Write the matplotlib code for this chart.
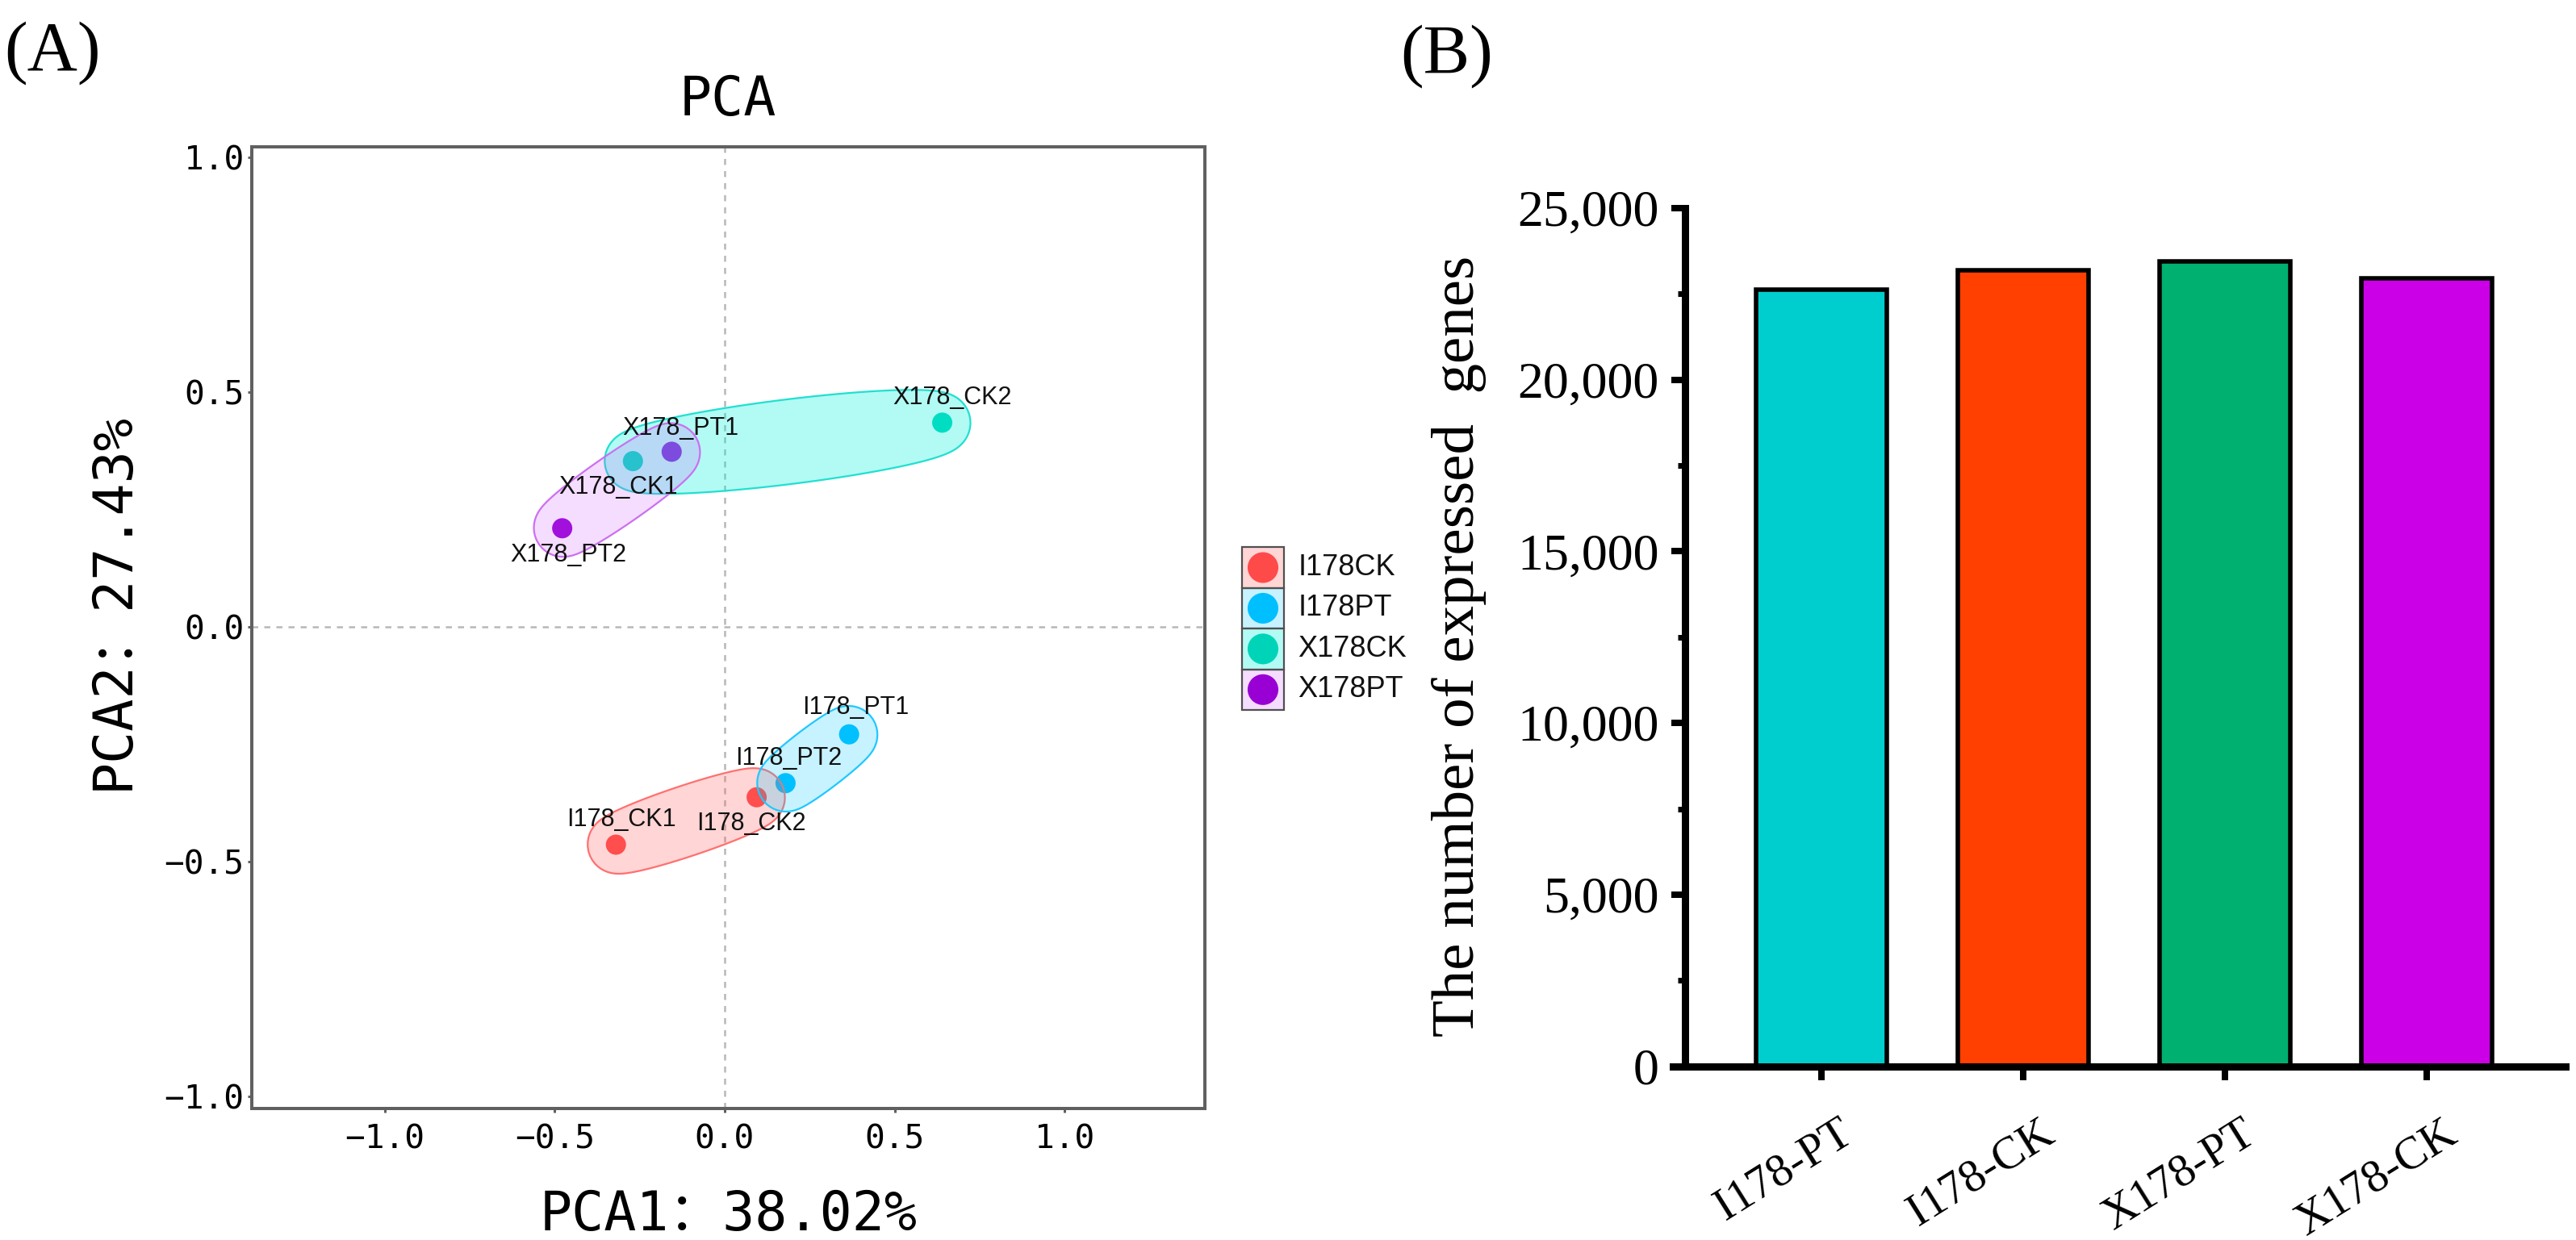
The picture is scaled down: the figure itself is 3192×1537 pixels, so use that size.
import numpy as np
import matplotlib
matplotlib.use("Agg")
import matplotlib.pyplot as plt
from matplotlib.patches import Polygon, Rectangle
from matplotlib.colors import to_rgba
from matplotlib.ticker import MultipleLocator, StrMethodFormatter
import matplotlib.transforms as mtransforms

# ------------------------- data -------------------------
sample_names = ["I178_CK1", "I178_CK2", "I178_PT1", "I178_PT2",
                "X178_CK1", "X178_CK2", "X178_PT1", "X178_PT2"]
sample_groups = ["I178CK", "I178CK", "I178PT", "I178PT",
                 "X178CK", "X178CK", "X178PT", "X178PT"]
pc1 = [-0.320, 0.094, 0.366, 0.179, -0.270, 0.640, -0.156, -0.478]
pc2 = [-0.464, -0.363, -0.229, -0.333, 0.353, 0.435, 0.373, 0.210]
group_names = ["I178CK", "I178PT", "X178CK", "X178PT"]
pc1_label = "PCA1：38.02%"
pc2_label = "PCA2：27.43%"
pca_title = "PCA"
pca_ticks = [-1.0, -0.5, 0.0, 0.5, 1.0]

bar_categories = ["I178-PT", "I178-CK", "X178-PT", "X178-CK"]
expressed_genes = [22620, 23190, 23440, 22950]
bar_yticks = [0, 5000, 10000, 15000, 20000, 25000]
bar_ylabel = "The number of expressed  genes"

# ------------------------- styles -------------------------
group_colors = {"I178CK": "#FF4A4A", "I178PT": "#00BFFF",
                "X178CK": "#00D4B8", "X178PT": "#9800D4"}
ellipse_colors = {"I178CK": ("#FF5A5A", 0.25), "I178PT": ("#00C8FF", 0.22),
                  "X178CK": ("#00F5DC", 0.30), "X178PT": ("#CC55FF", 0.20)}
ellipse_edges = {"I178CK": "#FF7070", "I178PT": "#20C8FF",
                 "X178CK": "#20E0D0", "X178PT": "#CC70F0"}
bar_colors = ["#00CECE", "#FF4000", "#00B070", "#CC00E6"]
# label offsets from points, in pixels (right, down)
label_offsets = {"X178_PT1": (11, -29), "X178_CK1": (-18, 32),
                 "X178_PT2": (8, 33), "X178_CK2": (12, -31),
                 "I178_PT1": (8, -33), "I178_PT2": (4, -31),
                 "I178_CK2": (-7, 33), "I178_CK1": (7, -31)}

MONO = ["DejaVu Sans Mono", "Noto Sans CJK SC"]
NARROW = ["Liberation Sans", "DejaVu Sans"]
SERIF = ["Liberation Serif", "DejaVu Serif"]

DPI = 200
W, H = 3192, 1537


def px(v):
    return v * 72.0 / DPI


def rect(l, t, r, b):
    return [l / W, 1 - b / H, (r - l) / W, (b - t) / H]


fig = plt.figure(figsize=(W / DPI, H / DPI), dpi=DPI)
fig.patch.set_facecolor("white")

# ------------------------- Panel A: PCA -------------------------
ax = fig.add_axes(rect(311.7, 181.7, 1492.7, 1374))
ax.set_xlim(-1.392, 1.412)
ax.set_ylim(-1.026, 1.023)
ax.axhline(0, color="#B8B8B8", lw=px(2.5), ls=(0, (3, 3)), zorder=0)
ax.axvline(0, color="#B8B8B8", lw=px(2.5), ls=(0, (3, 3)), zorder=0)

pc1_arr = np.array(pc1)
pc2_arr = np.array(pc2)
grp_arr = np.array(sample_groups)

for g in group_names:
    m = grp_arr == g
    ax.scatter(pc1_arr[m], pc2_arr[m], s=81, color=group_colors[g],
               edgecolors="none", zorder=2)

# enclosing ellipses (built in display space from the data points)
for g in group_names:
    m = grp_arr == g
    P = ax.transData.transform(np.column_stack([pc1_arr[m], pc2_arr[m]]))
    c = P.mean(axis=0)
    d = P[1] - P[0]
    a0 = np.linalg.norm(d) / 2
    u = d / (2 * a0)
    v = np.array([-u[1], u[0]])
    b0 = 0.09 * a0
    margin = 35
    t = np.linspace(0, 2 * np.pi, 400)
    base = c + np.outer(a0 * np.cos(t), u) + np.outer(b0 * np.sin(t), v)
    n = np.outer(np.cos(t) / a0, u) + np.outer(np.sin(t) / b0, v)
    n /= np.linalg.norm(n, axis=1)[:, None]
    outline = base + margin * n
    data_outline = ax.transData.inverted().transform(outline)
    fc, fa = ellipse_colors[g]
    ax.add_patch(Polygon(data_outline, closed=True,
                         facecolor=to_rgba(fc, fa),
                         edgecolor=ellipse_edges[g], lw=0.8, zorder=3))

for name, x, y in zip(sample_names, pc1, pc2):
    dx, dy = label_offsets[name]
    ax.annotate(name, (x, y), xytext=(px(dx), -px(dy)),
                textcoords="offset points", ha="center", va="center",
                fontsize=11, fontfamily=NARROW, color="#111111", zorder=5)

tick_lbls = [f"{t:.1f}".replace("-", "\u2212") for t in pca_ticks]
ax.set_xticks(pca_ticks, labels=tick_lbls, fontsize=14.8, fontfamily=MONO)
ax.set_yticks(pca_ticks, labels=tick_lbls, fontsize=14.8, fontfamily=MONO)
ax.tick_params(axis="both", length=px(5), width=px(3), color="#606060")
ax.tick_params(axis="x", pad=px(14))
ax.tick_params(axis="y", pad=px(4))
for s in ax.spines.values():
    s.set_color("#606060")
    s.set_linewidth(px(4))

ax.set_title(pca_title, fontsize=24, fontfamily=MONO, pad=14)
ax.set_xlabel(pc1_label, fontsize=24, fontfamily=MONO)
ax.xaxis.set_label_coords(0.5, -0.083)
ax.set_ylabel(pc2_label, fontsize=24, fontfamily=MONO)
ax.yaxis.set_label_coords(-0.118, 0.5275)

# legend
lax = fig.add_axes(rect(1539.3, 678.3, 1590.7, 880))
lax.set_xlim(0, 1)
lax.set_ylim(len(group_names), 0)
lax.axis("off")
for i, g in enumerate(group_names):
    fc, fa = ellipse_colors[g]
    lax.add_patch(Rectangle((0, i), 1, 1, facecolor=to_rgba(fc, fa),
                            edgecolor="#505050", lw=0.8, clip_on=False))
    lax.scatter([0.5], [i + 0.5], s=188, color=group_colors[g],
                edgecolors="none", clip_on=False, zorder=3)
    lax.annotate(g, (1, i + 0.5), xytext=(px(17.6), 0),
                 textcoords="offset points", ha="left", va="center",
                 fontsize=13, fontfamily=NARROW, color="#111111")

fig.text(65 / W, 1 - 66 / H, "(A)", ha="center", va="center",
         fontsize=31, fontfamily=SERIF)
fig.text(1792.6 / W, 1 - 70 / H, "(B)", ha="center", va="center",
         fontsize=31, fontfamily=SERIF)

# ------------------------- Panel B: bars -------------------------
bx = fig.add_axes(rect(2073, 257.7, 3179, 1321.7))
xpos = np.arange(len(bar_categories))
bx.bar(xpos, expressed_genes, width=0.65, color=bar_colors,
       edgecolor="black", linewidth=2, zorder=2)
bx.set_xlim(-0.735, 3.689)
bx.set_ylim(0, 25000)
for s in ["top", "right"]:
    bx.spines[s].set_visible(False)
bx.spines["left"].set_position(("data", -0.676))
for s in ["left", "bottom"]:
    bx.spines[s].set_linewidth(px(9))
    bx.spines[s].set_color("black")

bx.set_yticks(bar_yticks)
bx.yaxis.set_major_formatter(StrMethodFormatter("{x:,.0f}"))
bx.yaxis.set_minor_locator(MultipleLocator(2500))
bx.tick_params(axis="y", which="major", length=px(17), width=px(8),
               labelsize=23, pad=px(15))
bx.tick_params(axis="y", which="minor", length=px(9), width=px(7))
for lab in bx.get_yticklabels():
    lab.set_fontfamily(SERIF)

bx.set_xticks(xpos)
bx.set_xticklabels(bar_categories, rotation=32, ha="right", va="center",
                   rotation_mode="anchor", fontsize=20.5, fontfamily=SERIF)
bx.tick_params(axis="x", length=px(17), width=px(8), pad=px(62))
offset = mtransforms.ScaledTranslation(px(34) / 72, 0, fig.dpi_scale_trans)
for lab in bx.get_xticklabels():
    lab.set_transform(lab.get_transform() + offset)

bx.set_ylabel(bar_ylabel, fontsize=27, fontfamily=SERIF)
bx.yaxis.set_label_coords(-0.209, 0.4894)

fig.savefig("out.png", dpi=DPI, facecolor="white")
